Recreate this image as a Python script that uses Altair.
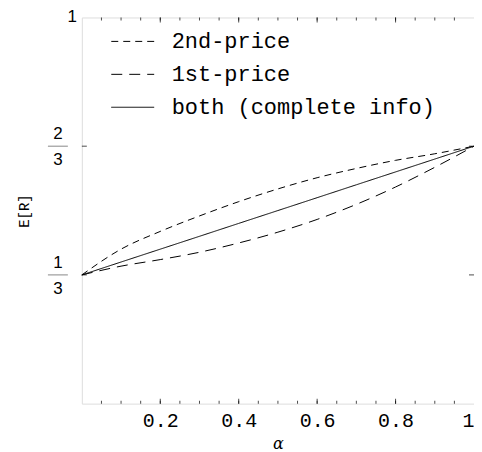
import altair as alt
import pandas as pd

# ---- data ----
alpha = [0.0, 0.1, 0.2, 0.3, 0.4, 0.5, 0.6, 0.7, 0.8, 0.9, 1.0]
second_price = [0.3333, 0.400, 0.446, 0.486, 0.523, 0.556, 0.585, 0.609, 0.630, 0.647, 0.6667]
first_price = [0.3333, 0.356, 0.373, 0.392, 0.416, 0.444, 0.477, 0.516, 0.561, 0.612, 0.6667]
both_info = [0.3333, 0.3667, 0.4, 0.4333, 0.4667, 0.5, 0.5333, 0.5667, 0.6, 0.6333, 0.6667]
series_names = ["2nd-price", "1st-price", "both (complete info)"]
series_dash = [[7, 5], [11, 7], [1, 0]]

x_label_values = [0.2, 0.4, 0.6, 0.8, 1.0]
x_minor = [round(0.05 * i, 2) for i in range(1, 20)]
x_major = [0.2, 0.4, 0.6, 0.8]
y_frac_values = [1 / 3, 2 / 3]
y_frac_num = ["1", "2"]
y_frac_den = ["3", "3"]
y_top_value = [1.0]
y_top_label = ["1"]

W, H = 393, 387

rows = []
for name, vals in zip(series_names, [second_price, first_price, both_info]):
    for a, v in zip(alpha, vals):
        rows.append({"alpha": a, "ER": v, "series": name})
df = pd.DataFrame(rows)

xscale = alt.Scale(domain=[0, 1], nice=False, zero=False)
yscale = alt.Scale(domain=[0, 1], nice=False, zero=False)

lines = alt.Chart(df).mark_line(color="black", strokeWidth=1, interpolate="monotone").encode(
    x=alt.X("alpha:Q", scale=xscale,
            axis=alt.Axis(values=x_label_values, ticks=False, domain=False, grid=False,
                          labelFont="Liberation Mono", labelFontSize=20, labelColor="black",
                          labelPadding=7,
                          labelExpr="datum.value == 1 ? '1' : format(datum.value, '.1f')",
                          title="α", titleFont="DejaVu Serif", titleFontStyle="italic",
                          titleFontWeight="normal", titleFontSize=16, titleColor="black",
                          titleY=40, titleBaseline="middle")),
    y=alt.Y("ER:Q", scale=yscale,
            axis=alt.Axis(values=[1.0], ticks=False, domain=False, grid=False,
                          labels=False,
                          title="E[R]", titleFont="Liberation Mono", titleFontSize=14,
                          titleFontWeight="normal", titleColor="black",
                          titleX=-57, titleY=H / 2, titleAngle=-90, titleBaseline="middle",
                          titleAlign="center")),
    strokeDash=alt.StrokeDash(
        "series:N",
        scale=alt.Scale(domain=series_names, range=series_dash),
        sort=series_names,
        legend=alt.Legend(orient="none", legendX=29, legendY=2, title=None,
                          symbolType="stroke", symbolSize=1849, symbolStrokeWidth=1,
                          symbolStrokeColor="black", labelFont="Liberation Mono",
                          labelFontSize=22, labelColor="black", labelOffset=17,
                          rowPadding=-1, labelLimit=400),
    ),
)

# top "1" label
top_df = pd.DataFrame({"v": y_top_value, "t": y_top_label})
top_text = alt.Chart(top_df).mark_text(font="Liberation Sans", fontSize=17, color="black",
                                       align="right", baseline="middle", dy=0).encode(
    x=alt.value(-5), y=alt.Y("v:Q", scale=yscale), text="t:N")

# fractional tick labels on y
fr = pd.DataFrame({"v": y_frac_values, "num": y_frac_num, "den": y_frac_den})
num_text = alt.Chart(fr).mark_text(font="Liberation Sans", fontSize=17, color="black",
                                   align="center", baseline="middle", dy=-12).encode(
    x=alt.value(-24), y=alt.Y("v:Q", scale=yscale), text="num:N")
den_text = alt.Chart(fr).mark_text(font="Liberation Sans", fontSize=17, color="black",
                                   align="center", baseline="middle", dy=14).encode(
    x=alt.value(-24), y=alt.Y("v:Q", scale=yscale), text="den:N")
frac_bar = alt.Chart(fr).mark_tick(orient="horizontal", color="#555555", size=20,
                                   thickness=1).encode(
    x=alt.value(-24), y=alt.Y("v:Q", scale=yscale))

# inward ticks
ly = pd.DataFrame({"v": y_frac_values})
left_ticks = alt.Chart(ly).mark_tick(orient="horizontal", color="black", size=5,
                                     thickness=1).encode(
    x=alt.value(2.5), y=alt.Y("v:Q", scale=yscale))
right_ticks = alt.Chart(ly).mark_tick(orient="horizontal", color="black", size=5,
                                      thickness=1).encode(
    x=alt.value(W - 2.5), y=alt.Y("v:Q", scale=yscale))

mx = pd.DataFrame({"v": x_minor})
Mx = pd.DataFrame({"v": x_major})
bottom_minor = alt.Chart(mx).mark_tick(orient="vertical", color="black", size=3,
                                       thickness=1).encode(
    x=alt.X("v:Q", scale=xscale), y=alt.value(H - 1.5))
bottom_major = alt.Chart(Mx).mark_tick(orient="vertical", color="black", size=5,
                                       thickness=1).encode(
    x=alt.X("v:Q", scale=xscale), y=alt.value(H - 2.5))
top_minor = alt.Chart(mx).mark_tick(orient="vertical", color="black", size=3,
                                    thickness=1).encode(
    x=alt.X("v:Q", scale=xscale), y=alt.value(1.5))
top_major = alt.Chart(Mx).mark_tick(orient="vertical", color="black", size=5,
                                    thickness=1).encode(
    x=alt.X("v:Q", scale=xscale), y=alt.value(2.5))

chart = alt.layer(
    lines, top_text, num_text, den_text, frac_bar, left_ticks, right_ticks,
    bottom_minor, bottom_major, top_minor, top_major,
).properties(
    width=W, height=H,
    autosize=alt.AutoSizeParams(type="none"),
    padding={"left": 74, "top": 9, "right": 0, "bottom": 48},
).configure_view(
    stroke="black", strokeWidth=1
).configure(background="white")

chart.save("out.html", embed_options={"renderer": "svg", "actions": False})
